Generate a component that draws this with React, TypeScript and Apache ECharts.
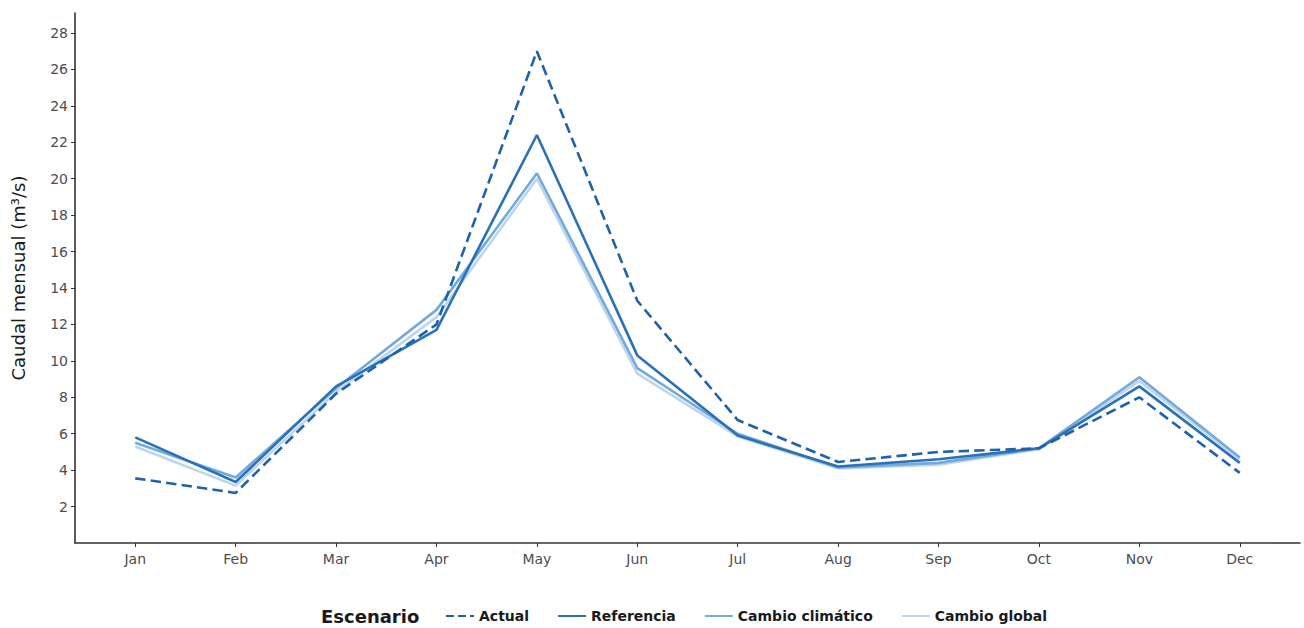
import React, { useEffect, useRef } from "react";
import * as echarts from "echarts";

const months = ["Jan", "Feb", "Mar", "Apr", "May", "Jun", "Jul", "Aug", "Sep", "Oct", "Nov", "Dec"];
const actual = [3.55, 2.75, 8.2, 12.0, 27.0, 13.3, 6.75, 4.45, 5.0, 5.2, 8.0, 3.85];
const referencia = [5.8, 3.35, 8.6, 11.7, 22.4, 10.3, 5.9, 4.2, 4.6, 5.2, 8.6, 4.4];
const climatico = [5.5, 3.6, 8.5, 12.8, 20.3, 9.6, 6.0, 4.15, 4.4, 5.2, 9.1, 4.7];
const global = [5.3, 3.15, 8.3, 12.4, 20.0, 9.3, 5.85, 4.1, 4.3, 5.15, 8.9, 4.6];
const yTicks = [2, 4, 6, 8, 10, 12, 14, 16, 18, 20, 22, 24, 26, 28];
const monthIdx = months.map((_, i) => i);

const colors = {
  actual: "#1f62ab",
  referencia: "#2a72b8",
  climatico: "#73a9db",
  global: "#bcd6ee",
};

const FONT = "DejaVu Sans, Arial, sans-serif";

export default function App() {
  const ref = useRef<HTMLDivElement>(null);
  useEffect(() => {
    if (!ref.current) return;
    const chart = echarts.init(ref.current, undefined, { renderer: "svg" });
    const mk = (name: string, data: number[], color: string, type: string, z: number) => ({
      name,
      type: "line",
      data: data.map((v, i) => [i, v]),
      showSymbol: false,
      symbol: "none",
      z,
      lineStyle: { color, width: 2.6, type },
      itemStyle: { color },
    });
    chart.setOption({
      animation: false,
      textStyle: { fontFamily: FONT },
      grid: { left: 75, right: 4, top: 13, bottom: 85, containLabel: false },
      xAxis: {
        type: "value",
        min: -0.6,
        max: 11.6,
        splitLine: { show: false },
        axisLine: { show: true, onZero: false, lineStyle: { color: "#333", width: 1.6 } },
        axisTick: { show: true, customValues: monthIdx, length: 4, lineStyle: { color: "#333" } },
        axisLabel: {
          customValues: monthIdx,
          formatter: (v: number) => months[Math.round(v)] ?? "",
          color: "#4d4d4d",
          fontSize: 14,
          margin: 9,
        },
      },
      yAxis: {
        type: "value",
        min: 0,
        max: 29.1,
        name: "Caudal mensual (m³/s)",
        nameLocation: "middle",
        nameGap: 48,
        nameTextStyle: { color: "#1a1a1a", fontSize: 18 },
        splitLine: { show: false },
        axisLine: { show: true, onZero: false, lineStyle: { color: "#333", width: 1.6 } },
        axisTick: { show: true, customValues: yTicks, length: 4, lineStyle: { color: "#333" } },
        axisLabel: { customValues: yTicks, color: "#4d4d4d", fontSize: 14, margin: 7 },
      },
      legend: {
        top: 604,
        left: 440,
        itemWidth: 28,
        itemHeight: 10,
        itemGap: 28,
        itemStyle: { opacity: 0 },
        textStyle: { color: "#1a1a1a", fontSize: 14, fontWeight: "bold" },
        data: ["Actual", "Referencia", "Cambio climático", "Cambio global"],
      },
      graphic: [
        {
          type: "text",
          left: 321,
          top: 607,
          style: { text: "Escenario", fontSize: 18, fontWeight: "bold", fill: "#1a1a1a", fontFamily: FONT },
        },
      ],
      series: [
        mk("Cambio global", global, colors.global, "solid", 1),
        mk("Cambio climático", climatico, colors.climatico, "solid", 2),
        mk("Referencia", referencia, colors.referencia, "solid", 3),
        mk("Actual", actual, colors.actual, "dashed", 4),
      ],
    });
    return () => chart.dispose();
  }, []);
  return <div ref={ref} style={{ width: 1304, height: 628, position: "absolute", left: 0, top: 0 }} />;
}
